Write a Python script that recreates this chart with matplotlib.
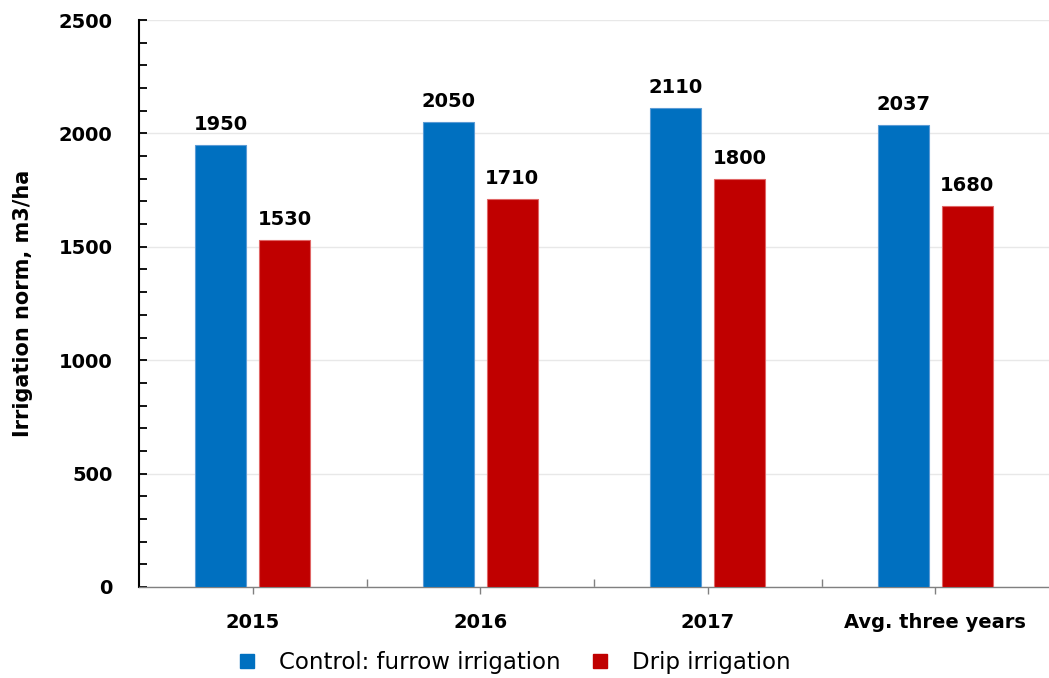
import matplotlib
matplotlib.use("Agg")
import matplotlib.pyplot as plt
import numpy as np
from matplotlib.ticker import MultipleLocator, FixedLocator
from matplotlib.lines import Line2D

plt.rcParams["font.family"] = ["DejaVu Sans"]

categories = ["2015", "2016", "2017", "Avg. three years"]
furrow = [1950, 2050, 2110, 2037]
drip = [1530, 1710, 1800, 1680]
series_names = ["Control: furrow irrigation", "Drip irrigation"]

BLUE = "#0070C0"
RED = "#C00000"

fig = plt.figure(figsize=(10.49, 6.78), dpi=100)
ax = fig.add_axes([139 / 1049, 1 - 587 / 678, (1049 - 139) / 1049, (587 - 20) / 678])

x = np.arange(len(categories))
w = 0.225
off = 0.14
b1 = ax.bar(x - off, furrow, w, color=BLUE, edgecolor="#5B9BD5", linewidth=0.8, zorder=3)
b2 = ax.bar(x + off, drip, w, color=RED, edgecolor="#E06666", linewidth=0.8, zorder=3)

for bars, vals in ((b1, furrow), (b2, drip)):
    for rect, v in zip(bars, vals):
        ax.annotate(f"{v}", (rect.get_x() + rect.get_width() / 2, v),
                    xytext=(0, 8), textcoords="offset points",
                    ha="center", va="bottom", fontsize=14, fontweight="bold")

ax.set_xlim(-0.5, len(categories) - 0.5)
ax.set_ylim(0, 2500)
ax.yaxis.set_major_locator(MultipleLocator(500))
ax.yaxis.set_minor_locator(MultipleLocator(100))
ax.grid(axis="y", which="major", color="#E8E8E8", lw=1, zorder=0)

ax.set_xticks(x)
ax.set_xticklabels(categories, fontsize=14, fontweight="bold")
ax.xaxis.set_minor_locator(FixedLocator(x[:-1] + 0.5))
ax.tick_params(axis="x", which="major", direction="out", length=5, width=1,
               color="#808080", pad=14)
ax.tick_params(axis="x", which="minor", direction="in", length=6, width=1,
               color="#808080")
ax.tick_params(axis="y", which="both", direction="in", length=6, width=1.3,
               color="black", pad=19)
for lbl in ax.get_yticklabels():
    lbl.set_fontsize(14)
    lbl.set_fontweight("bold")

ax.spines["top"].set_visible(False)
ax.spines["right"].set_visible(False)
ax.spines["left"].set_linewidth(1.5)
ax.spines["bottom"].set_color("#808080")
ax.spines["bottom"].set_linewidth(1)

ax.set_ylabel("Irrigation norm, m3/ha", fontsize=15, fontweight="bold")
ax.yaxis.set_label_coords(-106 / 910, 0.5)

handles = [Line2D([], [], marker="s", ls="", color=BLUE, markersize=10),
           Line2D([], [], marker="s", ls="", color=RED, markersize=10)]
fig.legend(handles, series_names, loc="center", bbox_to_anchor=(512 / 1049, 1 - 663 / 678),
           ncol=2, frameon=False, fontsize=16.5, handletextpad=0.8, columnspacing=1.1,
           handlelength=1.2, borderpad=0)

fig.savefig("out.png", dpi=100)
